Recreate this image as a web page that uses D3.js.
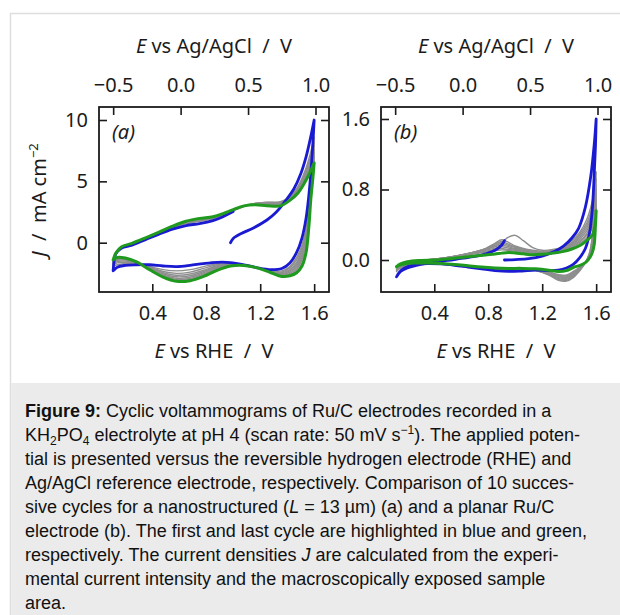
<!DOCTYPE html>
<html>
<head>
<meta charset="utf-8">
<script src="https://cdn.jsdelivr.net/npm/d3@7"></script>
<style>
body { margin: 0; background: #fff; }
svg { display: block; }
</style>
</head>
<body>
<script>
// ---------- data, panel (a): nanostructured electrode ----------
var eUpA = [0.11, 0.13, 0.17, 0.25, 0.35, 0.45, 0.55, 0.65, 0.75, 0.85, 0.92, 1.0, 1.08, 1.16, 1.25, 1.35, 1.42, 1.48, 1.53, 1.57, 1.6];
var eDownA = [1.6, 1.59, 1.575, 1.56, 1.54, 1.51, 1.47, 1.42, 1.36, 1.28, 1.18, 1.08, 0.98, 0.88, 0.78, 0.68, 0.58, 0.48, 0.38, 0.28, 0.2, 0.14, 0.11];

var blueStartEA = [0.98, 1.0, 1.06, 1.15, 1.25, 1.32, 1.39, 1.45, 1.5, 1.54, 1.57, 1.6];
var blueStartJA = [0.0, 0.35, 0.75, 1.2, 1.85, 2.5, 3.45, 4.4, 5.6, 7.0, 8.4, 10.0];
var blueDownJA = [10.0, 8.0, 5.6, 3.8, 2.0, 0.4, -0.8, -1.65, -2.1, -2.2, -2.05, -1.8, -1.62, -1.6, -1.7, -1.85, -1.95, -1.9, -1.8, -1.8, -1.85, -2.0, -2.3];
var blueBackJA = [-2.25, -0.9, -0.45, -0.2, 0.25, 0.7, 1.1, 1.4, 1.55, 1.8, 2.1, 2.55];

var greenUpJA = [-1.4, -0.85, -0.35, -0.05, 0.4, 0.87, 1.35, 1.75, 1.98, 2.12, 2.35, 2.7, 3.0, 3.1, 3.02, 3.0, 3.45, 4.05, 4.9, 5.75, 6.5];
var greenDownJA = [6.5, 5.2, 3.5, 1.2, -0.8, -1.9, -2.45, -2.7, -2.75, -2.45, -2.05, -1.85, -1.9, -2.25, -2.75, -3.1, -3.15, -2.8, -2.2, -1.55, -1.25, -1.2, -1.4];

// cycles 2..9
var grayUpJA = [
  [-1.9, -0.95, -0.45, -0.15, 0.3, 0.75, 1.2, 1.55, 1.75, 1.95, 2.2, 2.6, 2.95, 3.2, 3.3, 3.35, 3.75, 4.6, 5.8, 7.2, 8.6],
  [-1.8, -0.93, -0.43, -0.13, 0.32, 0.78, 1.24, 1.6, 1.8, 2.0, 2.24, 2.62, 2.97, 3.2, 3.28, 3.3, 3.7, 4.5, 5.6, 6.9, 8.2],
  [-1.75, -0.92, -0.42, -0.12, 0.34, 0.8, 1.27, 1.63, 1.85, 2.02, 2.26, 2.64, 2.98, 3.18, 3.25, 3.27, 3.65, 4.4, 5.45, 6.7, 7.9],
  [-1.7, -0.9, -0.4, -0.1, 0.35, 0.82, 1.29, 1.66, 1.88, 2.05, 2.28, 2.65, 2.99, 3.16, 3.2, 3.22, 3.6, 4.3, 5.3, 6.5, 7.6],
  [-1.62, -0.89, -0.39, -0.09, 0.36, 0.83, 1.3, 1.68, 1.91, 2.07, 2.3, 2.66, 2.99, 3.14, 3.15, 3.17, 3.57, 4.22, 5.2, 6.3, 7.35],
  [-1.55, -0.88, -0.38, -0.08, 0.37, 0.84, 1.32, 1.7, 1.93, 2.08, 2.31, 2.67, 3.0, 3.12, 3.11, 3.12, 3.53, 4.17, 5.1, 6.1, 7.1],
  [-1.5, -0.87, -0.37, -0.07, 0.38, 0.85, 1.33, 1.72, 1.95, 2.1, 2.32, 2.68, 3.0, 3.11, 3.07, 3.07, 3.5, 4.12, 5.0, 5.95, 6.9],
  [-1.45, -0.86, -0.36, -0.06, 0.39, 0.86, 1.34, 1.73, 1.96, 2.11, 2.33, 2.69, 3.0, 3.1, 3.04, 3.03, 3.47, 4.08, 4.95, 5.85, 6.7]
];
var grayDownJA = [
  [8.6, 7.0, 4.9, 3.0, 1.2, -0.2, -1.2, -1.95, -2.3, -2.3, -2.05, -1.8, -1.68, -1.72, -1.95, -2.2, -2.3, -2.2, -1.95, -1.75, -1.7, -1.8, -1.9],
  [8.2, 6.7, 4.7, 2.8, 1.0, -0.4, -1.4, -2.05, -2.38, -2.33, -2.05, -1.8, -1.72, -1.8, -2.1, -2.4, -2.5, -2.35, -2.0, -1.7, -1.6, -1.65, -1.8],
  [7.9, 6.4, 4.5, 2.6, 0.8, -0.6, -1.6, -2.2, -2.45, -2.36, -2.05, -1.82, -1.76, -1.88, -2.25, -2.55, -2.65, -2.45, -2.05, -1.68, -1.5, -1.55, -1.75],
  [7.6, 6.2, 4.3, 2.4, 0.6, -0.8, -1.75, -2.3, -2.52, -2.38, -2.05, -1.83, -1.8, -1.95, -2.35, -2.7, -2.78, -2.55, -2.1, -1.65, -1.42, -1.45, -1.7],
  [7.35, 6.0, 4.1, 2.2, 0.4, -1.0, -1.9, -2.4, -2.58, -2.4, -2.05, -1.84, -1.83, -2.02, -2.45, -2.82, -2.9, -2.62, -2.13, -1.62, -1.37, -1.38, -1.62],
  [7.1, 5.8, 3.95, 2.0, 0.2, -1.2, -2.05, -2.5, -2.63, -2.42, -2.05, -1.84, -1.85, -2.1, -2.55, -2.92, -2.98, -2.68, -2.16, -1.6, -1.32, -1.3, -1.55],
  [6.9, 5.6, 3.8, 1.8, 0.0, -1.4, -2.2, -2.58, -2.68, -2.43, -2.05, -1.85, -1.87, -2.15, -2.63, -3.0, -3.05, -2.72, -2.18, -1.58, -1.29, -1.25, -1.5],
  [6.7, 5.4, 3.65, 1.5, -0.4, -1.65, -2.35, -2.65, -2.72, -2.44, -2.05, -1.85, -1.89, -2.2, -2.7, -3.05, -3.1, -2.76, -2.19, -1.56, -1.27, -1.22, -1.45]
];

// ---------- data, panel (b): planar electrode ----------
var eUpB = [0.12, 0.15, 0.2, 0.3, 0.4, 0.5, 0.6, 0.7, 0.78, 0.85, 0.9, 0.95, 1.0, 1.06, 1.13, 1.2, 1.28, 1.35, 1.42, 1.48, 1.53, 1.57, 1.59, 1.6];
var eDownB = [1.6, 1.595, 1.585, 1.57, 1.55, 1.52, 1.48, 1.43, 1.38, 1.32, 1.25, 1.15, 1.05, 0.95, 0.85, 0.75, 0.65, 0.55, 0.45, 0.35, 0.25, 0.18, 0.14, 0.12];

var blueStartEB = [0.92, 1.0, 1.1, 1.2, 1.29, 1.36, 1.42, 1.47, 1.52, 1.56, 1.585, 1.6];
var blueStartJB = [0.0, 0.005, 0.015, 0.045, 0.095, 0.16, 0.25, 0.36, 0.6, 0.95, 1.3, 1.6];
var blueDownJB = [1.6, 1.3, 0.95, 0.55, 0.3, 0.13, 0.03, -0.05, -0.09, -0.115, -0.12, -0.115, -0.125, -0.13, -0.12, -0.1, -0.08, -0.06, -0.045, -0.04, -0.055, -0.09, -0.14, -0.19];
var blueBackEB = [0.12, 0.15, 0.2, 0.3, 0.4, 0.5, 0.6, 0.7, 0.78, 0.85, 0.9, 0.92];
var blueBackJB = [-0.19, -0.13, -0.09, -0.05, -0.025, -0.005, 0.018, 0.04, 0.07, 0.11, 0.17, 0.22];

var greenUpJB = [-0.075, -0.045, -0.02, -0.005, 0.0, 0.012, 0.028, 0.045, 0.058, 0.068, 0.078, 0.085, 0.08, 0.07, 0.06, 0.065, 0.078, 0.095, 0.125, 0.165, 0.22, 0.28, 0.38, 0.56];
var greenDownJB = [0.56, 0.4, 0.17, 0.08, 0.02, -0.03, -0.06, -0.085, -0.12, -0.13, -0.115, -0.1, -0.095, -0.095, -0.09, -0.08, -0.065, -0.05, -0.04, -0.035, -0.035, -0.045, -0.06, -0.075];

var grayUpJB = [
  [-0.13, -0.08, -0.04, -0.01, 0.005, 0.025, 0.05, 0.085, 0.12, 0.16, 0.2, 0.26, 0.28, 0.22, 0.14, 0.11, 0.12, 0.15, 0.22, 0.32, 0.46, 0.66, 0.84, 1.0],
  [-0.12, -0.075, -0.035, -0.008, 0.008, 0.028, 0.055, 0.09, 0.13, 0.19, 0.23, 0.2, 0.16, 0.13, 0.11, 0.1, 0.11, 0.14, 0.2, 0.3, 0.42, 0.6, 0.77, 0.92],
  [-0.11, -0.07, -0.032, -0.006, 0.01, 0.03, 0.057, 0.092, 0.13, 0.18, 0.21, 0.18, 0.15, 0.12, 0.1, 0.095, 0.105, 0.13, 0.19, 0.28, 0.39, 0.55, 0.71, 0.85],
  [-0.1, -0.065, -0.03, -0.005, 0.01, 0.03, 0.058, 0.092, 0.125, 0.165, 0.19, 0.165, 0.14, 0.115, 0.095, 0.09, 0.1, 0.125, 0.18, 0.26, 0.36, 0.51, 0.66, 0.8],
  [-0.095, -0.06, -0.028, -0.004, 0.01, 0.03, 0.058, 0.09, 0.12, 0.15, 0.17, 0.15, 0.13, 0.11, 0.09, 0.085, 0.095, 0.12, 0.17, 0.24, 0.33, 0.47, 0.61, 0.74],
  [-0.09, -0.055, -0.026, -0.004, 0.008, 0.028, 0.055, 0.085, 0.11, 0.135, 0.15, 0.135, 0.12, 0.1, 0.085, 0.08, 0.09, 0.115, 0.16, 0.22, 0.3, 0.43, 0.56, 0.69],
  [-0.085, -0.052, -0.024, -0.004, 0.006, 0.025, 0.05, 0.078, 0.1, 0.12, 0.13, 0.12, 0.11, 0.095, 0.08, 0.077, 0.087, 0.11, 0.15, 0.205, 0.28, 0.39, 0.52, 0.64],
  [-0.08, -0.05, -0.022, -0.004, 0.004, 0.02, 0.045, 0.07, 0.09, 0.105, 0.115, 0.11, 0.1, 0.088, 0.075, 0.073, 0.084, 0.105, 0.14, 0.19, 0.25, 0.36, 0.48, 0.6]
];
var grayDownJB = [
  [1.0, 0.78, 0.5, 0.25, 0.08, -0.03, -0.12, -0.2, -0.24, -0.23, -0.17, -0.12, -0.11, -0.12, -0.115, -0.1, -0.08, -0.06, -0.045, -0.04, -0.05, -0.075, -0.1, -0.13],
  [0.92, 0.72, 0.45, 0.22, 0.07, -0.03, -0.11, -0.19, -0.23, -0.22, -0.165, -0.118, -0.108, -0.118, -0.112, -0.098, -0.078, -0.058, -0.044, -0.039, -0.047, -0.07, -0.095, -0.12],
  [0.85, 0.66, 0.41, 0.2, 0.06, -0.03, -0.105, -0.18, -0.22, -0.21, -0.16, -0.116, -0.106, -0.115, -0.11, -0.096, -0.076, -0.057, -0.043, -0.038, -0.045, -0.067, -0.09, -0.11],
  [0.8, 0.61, 0.37, 0.18, 0.05, -0.03, -0.1, -0.17, -0.21, -0.2, -0.155, -0.114, -0.104, -0.112, -0.107, -0.094, -0.074, -0.056, -0.042, -0.037, -0.043, -0.064, -0.085, -0.1],
  [0.74, 0.56, 0.34, 0.16, 0.045, -0.03, -0.095, -0.16, -0.2, -0.19, -0.15, -0.112, -0.102, -0.11, -0.105, -0.092, -0.072, -0.055, -0.042, -0.037, -0.042, -0.06, -0.08, -0.095],
  [0.69, 0.52, 0.31, 0.14, 0.04, -0.03, -0.09, -0.15, -0.19, -0.18, -0.145, -0.11, -0.1, -0.107, -0.102, -0.09, -0.07, -0.054, -0.041, -0.036, -0.041, -0.057, -0.075, -0.09],
  [0.64, 0.48, 0.28, 0.12, 0.035, -0.03, -0.085, -0.14, -0.18, -0.17, -0.14, -0.108, -0.098, -0.104, -0.1, -0.088, -0.069, -0.053, -0.041, -0.036, -0.04, -0.054, -0.07, -0.085],
  [0.6, 0.45, 0.25, 0.11, 0.03, -0.03, -0.08, -0.13, -0.17, -0.165, -0.135, -0.106, -0.096, -0.1, -0.097, -0.086, -0.068, -0.052, -0.04, -0.035, -0.039, -0.05, -0.065, -0.08]
];

// ticks
var rheTicks = [0.4, 0.8, 1.2, 1.6];
var agclTicks = [-0.5, 0.0, 0.5, 1.0];
var jTicksA = [0, 5, 10];
var jTicksB = [0.0, 0.8, 1.6];
var agclOffset = 0.61; // E(RHE) - E(Ag/AgCl) at pH 4

var captionLines = [
  [['Figure 9:', 'b'], [' Cyclic voltammograms of Ru/C electrodes recorded in a']],
  [['KH'], ['2', 'sub'], ['PO'], ['4', 'sub'], [' electrolyte at pH 4 (scan rate: 50 mV s'], ['\u22121', 'sup'], ['). The applied poten-']],
  [['tial is presented versus the reversible hydrogen electrode (RHE) and']],
  [['Ag/AgCl reference electrode, respectively. Comparison of 10 succes-']],
  [['sive cycles for a nanostructured ('], ['L', 'i'], [' = 13 \u00b5m) (a) and a planar Ru/C']],
  [['electrode (b). The first and last cycle are highlighted in blue and green,']],
  [['respectively. The current densities '], ['J', 'i'], [' are calculated from the experi-']],
  [['mental current intensity and the macroscopically exposed sample']],
  [['area.']]
];

// ---------- layout ----------
var width = 620, height = 615;
var plotTop = 107, plotBottom = 292, plotW = 230;
var ink = '#1b1b1b';
var blue = '#1a1ad2', green = '#1f9a1f', gray = '#8e8e8e';
var font = '"Noto Sans", "Open Sans", sans-serif';

var svg = d3.select('body').append('svg')
    .attr('width', width)
    .attr('height', height);

// outer box + caption background
svg.append('rect').attr('x', 10.5).attr('y', 13.5).attr('width', 640).attr('height', 640)
    .attr('fill', '#fff').attr('stroke', '#dedede').attr('stroke-width', 1.5);
svg.append('rect').attr('x', 11.25).attr('y', 383).attr('width', 640).attr('height', 300)
    .attr('fill', '#ebebeb');

function zip(a, b) {
    return a.map(function(v, i) { return [v, b[i]]; });
}

function drawPanel(p) {
    var x = d3.scaleLinear().domain([0.005, 1.71]).range([p.left, p.left + plotW]);
    var xTop = d3.scaleLinear().domain([0.005 - agclOffset, 1.71 - agclOffset]).range([p.left, p.left + plotW]);
    var y = d3.scaleLinear().domain(p.yDomain).range([plotBottom, plotTop]);

    var g = svg.append('g');
    var clipId = 'clip-' + p.name;
    g.append('clipPath').attr('id', clipId)
        .append('rect').attr('x', p.left).attr('y', plotTop).attr('width', plotW).attr('height', plotBottom - plotTop);

    var line = d3.line()
        .x(function(d) { return x(d[0]); })
        .y(function(d) { return y(d[1]); })
        .curve(d3.curveCatmullRom.alpha(0.5));

    var curves = g.append('g').attr('clip-path', 'url(#' + clipId + ')').attr('fill', 'none')
        .attr('stroke-linejoin', 'round').attr('stroke-linecap', 'round');

    p.grayUp.forEach(function(up, i) {
        curves.append('path')
            .attr('d', line(zip(p.eUp, up).concat(zip(p.eDown, p.grayDown[i]))))
            .attr('stroke', gray).attr('stroke-width', 1.4);
    });
    var bluePts = zip(p.blueStartE, p.blueStartJ)
        .concat(zip(p.eDown, p.blueDown))
        .concat(zip(p.blueBackE, p.blueBack));
    curves.append('path').attr('d', line(bluePts))
        .attr('stroke', blue).attr('stroke-width', 2.8);
    curves.append('path')
        .attr('d', line(zip(p.eUp, p.greenUp).concat(zip(p.eDown, p.greenDown))))
        .attr('stroke', green).attr('stroke-width', 3);

    // axes, ticks pointing inward
    var fmtY = p.name === 'a' ? d3.format('d') : d3.format('.1f');
    var axes = [
        g.append('g').attr('transform', 'translate(0,' + plotBottom + ')')
            .call(d3.axisBottom(x).tickValues(rheTicks).tickFormat(d3.format('.1f')).tickSize(-8).tickPadding(14)),
        g.append('g').attr('transform', 'translate(0,' + plotTop + ')')
            .call(d3.axisTop(xTop).tickValues(agclTicks).tickFormat(d3.format('.1f')).tickSize(-8).tickPadding(15)),
        g.append('g').attr('transform', 'translate(' + p.left + ',0)')
            .call(d3.axisLeft(y).tickValues(p.yTicks).tickFormat(fmtY).tickSize(-8).tickPadding(11)),
        g.append('g').attr('transform', 'translate(' + (p.left + plotW) + ',0)')
            .call(d3.axisRight(y).tickValues(p.yTicks).tickFormat('').tickSize(-8))
    ];
    axes.forEach(function(a) {
        a.select('.domain').remove();
        a.selectAll('line').attr('stroke', ink).attr('stroke-width', 1.6);
        a.selectAll('text').attr('fill', ink).style('font-family', font).style('font-size', '20px');
    });

    g.append('rect').attr('x', p.left).attr('y', plotTop).attr('width', plotW).attr('height', plotBottom - plotTop)
        .attr('fill', 'none').attr('stroke', ink).attr('stroke-width', 1.8);

    g.append('text').attr('x', p.left + 13).attr('y', 139)
        .style('font-family', font).style('font-size', '20px').style('font-style', 'italic')
        .attr('fill', ink).text('(' + p.name + ')');

    // axis titles
    var cx = p.left + plotW / 2;
    var t1 = g.append('text').attr('x', cx).attr('y', 53).attr('text-anchor', 'middle')
        .style('font-family', font).style('font-size', '20px').attr('fill', ink);
    t1.append('tspan').style('font-style', 'italic').text('E');
    t1.append('tspan').text(' vs Ag/AgCl \u00a0/\u00a0 V');
    var t2 = g.append('text').attr('x', cx).attr('y', 358).attr('text-anchor', 'middle')
        .style('font-family', font).style('font-size', '20px').attr('fill', ink);
    t2.append('tspan').style('font-style', 'italic').text('E');
    t2.append('tspan').text(' vs RHE \u00a0/\u00a0 V');

    if (p.name === 'a') {
        var t3 = g.append('text').attr('transform', 'translate(46,200) rotate(-90)')
            .attr('text-anchor', 'middle')
            .style('font-family', font).style('font-size', '20px').attr('fill', ink);
        t3.append('tspan').style('font-style', 'italic').text('J');
        t3.append('tspan').text(' \u00a0/\u00a0 mA cm');
        t3.append('tspan').attr('dy', -8).style('font-size', '13px').text('\u22122');
    }
}

drawPanel({
    name: 'a', left: 99, yDomain: [-4.02, 11.06], yTicks: jTicksA,
    eUp: eUpA, eDown: eDownA,
    blueStartE: blueStartEA, blueStartJ: blueStartJA, blueDown: blueDownJA,
    blueBackE: eUpA.slice(0, blueBackJA.length), blueBack: blueBackJA,
    greenUp: greenUpJA, greenDown: greenDownJA,
    grayUp: grayUpJA, grayDown: grayDownJA
});
drawPanel({
    name: 'b', left: 381, yDomain: [-0.363, 1.736], yTicks: jTicksB,
    eUp: eUpB, eDown: eDownB,
    blueStartE: blueStartEB, blueStartJ: blueStartJB, blueDown: blueDownJB,
    blueBackE: blueBackEB, blueBack: blueBackJB,
    greenUp: greenUpJB, greenDown: greenDownJB,
    grayUp: grayUpJB, grayDown: grayDownJB
});

// caption
var cap = svg.append('g').style('font-family', '"Liberation Sans", Arial, sans-serif')
    .style('font-size', '18px').attr('fill', '#111');
captionLines.forEach(function(segs, i) {
    var t = cap.append('text').attr('x', 25).attr('y', 417 + i * 24);
    segs.forEach(function(s, k) {
        var ts = t.append('tspan').text(s[0]);
        var prev = k > 0 ? segs[k - 1][1] : null;
        if (s[1] === 'b') ts.style('font-weight', 'bold');
        if (s[1] === 'i') ts.style('font-style', 'italic');
        if (s[1] === 'sub') ts.attr('dy', 4).style('font-size', '12px');
        else if (s[1] === 'sup') ts.attr('dy', -7).style('font-size', '12px');
        else if (prev === 'sub') ts.attr('dy', -4);
        else if (prev === 'sup') ts.attr('dy', 7);
    });
});
</script>
</body>
</html>
